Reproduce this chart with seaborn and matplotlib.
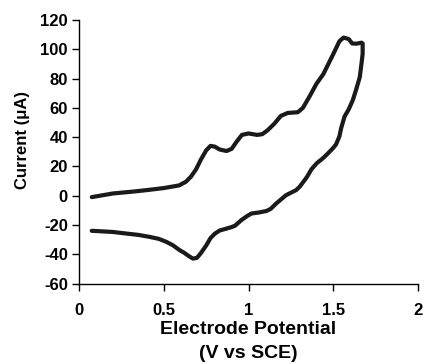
import matplotlib
matplotlib.use("Agg")
import matplotlib.pyplot as plt
import seaborn as sns
import pandas as pd

# Cyclic voltammogram: forward (anodic) scan then reverse scan
forward_potential = [0.075, 0.2, 0.32, 0.40, 0.50, 0.59, 0.63, 0.66, 0.69, 0.72,
                     0.75, 0.775, 0.80, 0.83, 0.87, 0.90, 0.93, 0.96, 1.00, 1.05,
                     1.08, 1.11, 1.15, 1.19, 1.23, 1.29, 1.32, 1.36, 1.40, 1.44,
                     1.47, 1.50, 1.535, 1.56, 1.59, 1.61, 1.635, 1.665, 1.672]
forward_current = [-1.0, 1.5, 2.8, 3.8, 5.2, 7.0, 9.5, 13, 18, 25,
                   31, 34, 33.5, 31.5, 30.5, 32, 37, 41.5, 42.5, 41.5,
                   42, 44.5, 49, 54.5, 56.5, 57, 60, 68, 76.5, 83,
                   90, 97, 105.5, 108, 107, 104, 103.8, 104.5, 104]
reverse_potential = [1.672, 1.665, 1.655, 1.635, 1.614, 1.59, 1.565, 1.545, 1.535, 1.515,
                     1.496, 1.46, 1.437, 1.40, 1.37, 1.345, 1.33, 1.30, 1.28, 1.22,
                     1.163, 1.13, 1.104, 1.06, 1.016, 0.99, 0.957, 0.92, 0.898, 0.86,
                     0.829, 0.80, 0.775, 0.751, 0.72, 0.695, 0.672, 0.65, 0.62, 0.594,
                     0.555, 0.516, 0.47, 0.418, 0.35, 0.28, 0.2, 0.124, 0.075]
reverse_current = [97, 90, 81, 73, 65.3, 59, 54, 46, 40.5, 35,
                   32.3, 28, 25.5, 22, 18, 13, 10.6, 6, 3.8, 0.3,
                   -5.3, -9, -10.5, -11.5, -12.2, -14, -16.7, -20.5, -21.5, -22.8,
                   -23.8, -26, -29, -33.8, -39, -42.5, -43, -41.5, -39, -37.3,
                   -34, -31.6, -29.5, -28.2, -26.8, -25.9, -24.8, -24.3, -24]

x_ticks = [0, 0.5, 1, 1.5, 2]
x_tick_labels = ["0", "0.5", "1", "1.5", "2"]
y_ticks = [-60, -40, -20, 0, 20, 40, 60, 80, 100, 120]

df = pd.DataFrame({
    "potential": forward_potential + reverse_potential,
    "current": forward_current + reverse_current,
})

sns.set_theme(style="ticks")
plt.rcParams["font.family"] = ["Liberation Sans", "DejaVu Sans"]
plt.rcParams["font.weight"] = "bold"
plt.rcParams["axes.unicode_minus"] = False

fig = plt.figure(figsize=(4.24, 3.63), dpi=100)
ax = fig.add_axes([79 / 424, 1 - 283.5 / 363, (418.3 - 79) / 424, (283.5 - 20) / 363])

sns.lineplot(data=df, x="potential", y="current", sort=False, estimator=None,
             color="#1a1a1a", linewidth=3.0, ax=ax,
             solid_joinstyle="round", solid_capstyle="round")

ax.set_xlim(0, 2)
ax.set_ylim(-60, 120)
ax.set_xticks(x_ticks)
ax.set_xticklabels(x_tick_labels)
ax.set_yticks(y_ticks)

for s in ["top", "right"]:
    ax.spines[s].set_visible(False)
for s in ["left", "bottom"]:
    ax.spines[s].set_color("black")
    ax.spines[s].set_linewidth(1.0)

ax.tick_params(axis="both", direction="out", length=5, width=1, color="black",
               labelsize=12, labelcolor="black")
ax.tick_params(axis="x", pad=9)
ax.tick_params(axis="y", pad=3)
for lab in ax.get_xticklabels() + ax.get_yticklabels():
    lab.set_fontweight("bold")

ax.set_xlabel("Electrode Potential\n(V vs SCE)", fontsize=14, fontweight="bold",
              color="black", linespacing=1.55)
ax.xaxis.label.set_va("top")
ax.xaxis.set_label_coords(248.5 / 424, 1 - 321 / 363, transform=fig.transFigure)
ax.set_ylabel("Current (μA)", fontsize=12, fontweight="bold", color="black")
ax.yaxis.set_label_coords(23 / 424, 1 - 140 / 363, transform=fig.transFigure)
ax.yaxis.label.set_va("center")

fig.savefig("out.png", dpi=100, facecolor="white")
